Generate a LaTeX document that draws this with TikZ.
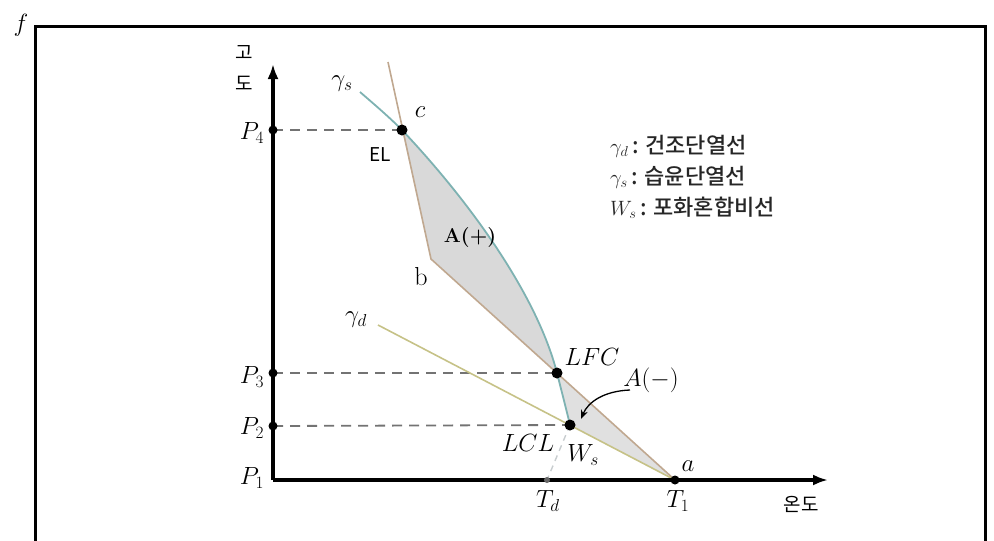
\documentclass[tikz,border=0pt]{standalone}
\usepackage{fontspec}
\newfontfamily\kr{Noto Sans CJK KR}
\newfontfamily\krm{Noto Sans CJK KR Medium}
\usetikzlibrary{arrows.meta}
\begin{document}
\begin{tikzpicture}[x=1pt,y=-1pt,
  lbl/.style={inner sep=0pt, font=\fontsize{23}{27}\selectfont},
  krl/.style={inner sep=0pt, font=\kr\fontsize{19}{22}\selectfont},
  legl/.style={inner sep=0pt, font=\krm\fontsize{22}{26}\selectfont, text=black!85},
  axisline/.style={line width=3.5pt, -{Latex[length=15pt,width=11pt]}},
  guide/.style={draw=black!55, line width=1.8pt, dash pattern=on 10pt off 7pt},
  envline/.style={draw=brown!45!white!85!black, line width=1.6pt},
  dryline/.style={draw=olive!35!white!90!black, line width=1.6pt},
  moist/.style={draw=teal!45!white!90!black, line width=1.8pt},
  wsline/.style={draw=cyan!15!black!25, line width=1.4pt, dash pattern=on 6pt off 5pt},
  fillA/.style={fill=black!15},
  fillB/.style={fill=black!12},
  bigdot/.style={fill=black},
]
\useasboundingbox (0,0) rectangle (994,541);
% frame
\draw[line width=3pt] (35,541) -- (35,26) -- (985,26) -- (985,541);
\node[inner sep=0pt, font=\fontsize{32}{36}\selectfont] (flabel) at (21,25) {$f$};

% coordinates
\coordinate (O) at (273,480);
\coordinate (ytip) at (273,64);
\coordinate (xtip) at (828,480);
\coordinate (c) at (402,130);
\coordinate (b) at (431,259);
\coordinate (LFC) at (557,373);
\coordinate (LCL) at (570,425);
\coordinate (a) at (675,480);
\coordinate (Td) at (547,480);
\coordinate (envtop) at (388,62);
\coordinate (gstart) at (360,92);
\coordinate (dstart) at (378,325);
\coordinate (P4) at (273,130);
\coordinate (P3) at (273,373);
\coordinate (P2) at (273,426);
\coordinate (amstart) at (630,390);
\coordinate (amtip) at (581,419);

% fills
\fill[fillA] (c) -- (b) -- (LFC) .. controls (537,295) and (470,202) .. (c) -- cycle;
\fill[fillB] (a) -- (LCL) .. controls (566,408) and (562,393) .. (LFC) -- cycle;

% dashed guides
\draw[guide] (P4) -- (c);
\draw[guide] (P3) -- (LFC);
\draw[guide] (P2) -- (LCL);

% lines
\draw[envline] (envtop) -- (b) -- (a);
\draw[dryline] (dstart) -- (a);
\draw[moist] (gstart) .. controls (375,105) and (388,116) .. (c)
   .. controls (470,202) and (537,295) .. (LFC)
   .. controls (562,393) and (566,408) .. (LCL);
\draw[wsline] (LCL) -- (Td);

% axes
\draw[axisline] (O) -- (ytip);
\draw[axisline] (O) -- (xtip);

% dots
\fill[bigdot] (c) circle (5.5);
\fill[bigdot] (LFC) circle (5.5);
\fill[bigdot] (LCL) circle (5.5);
\fill[bigdot] (P4) circle (4.5);
\fill[bigdot] (P3) circle (4.5);
\fill[bigdot] (P2) circle (4.5);
\fill[bigdot] (a) circle (4.5);
\fill[black!60] (Td) circle (3);

% A(-) arrow
\draw[line width=1.3pt, -{Stealth[length=9pt,width=7pt]}] (amstart) .. controls (604,391) and (588,402) .. (amtip);

% labels
\node[krl] (go) at (244,53) {고};
\node[krl] (do) at (244,83) {도};
\node[krl] (ondo) at (801,504) {온도};
\node[lbl] (lP4) at (252,133) {$P_4$};
\node[lbl] (lP3) at (252,377) {$P_3$};
\node[lbl] (lP2) at (252,428) {$P_2$};
\node[lbl] (lP1) at (252,478) {$P_1$};
\node[lbl] (lgs) at (342,84) {$\gamma_s$};
\node[lbl] (lgd) at (356,320) {$\gamma_d$};
\node[lbl] (lc) at (420,112) {$c$};
\node[inner sep=0pt, font=\kr\fontsize{19}{22}\selectfont] (lEL) at (380,155) {EL};
\node[lbl, font=\bfseries\fontsize{20}{24}\selectfont] (lAp) at (470,238) {A(+)};
\node[lbl, font=\fontsize{26}{30}\selectfont] (lb) at (421,277) {b};
\node[lbl] (lLFC) at (592,357) {$LFC$};
\node[lbl] (lAm) at (651,380) {$A(-)$};
\node[lbl] (lLCL) at (528,443) {$LCL$};
\node[lbl] (lWs) at (583,455) {$W_s$};
\node[lbl] (la) at (688,466) {$a$};
\node[lbl] (lTd) at (548,501) {$T_d$};
\node[lbl] (lT1) at (678,501) {$T_1$};

% legend
\node[legl, anchor=west] (leg1) at (610,146) {$\gamma_d$\,: 건조단열선};
\node[legl, anchor=west] (leg2) at (610,177) {$\gamma_s$\,: 습윤단열선};
\node[legl, anchor=west] (leg3) at (610,208) {$W_s$\,: 포화혼합비선};
\end{tikzpicture}
\end{document}
